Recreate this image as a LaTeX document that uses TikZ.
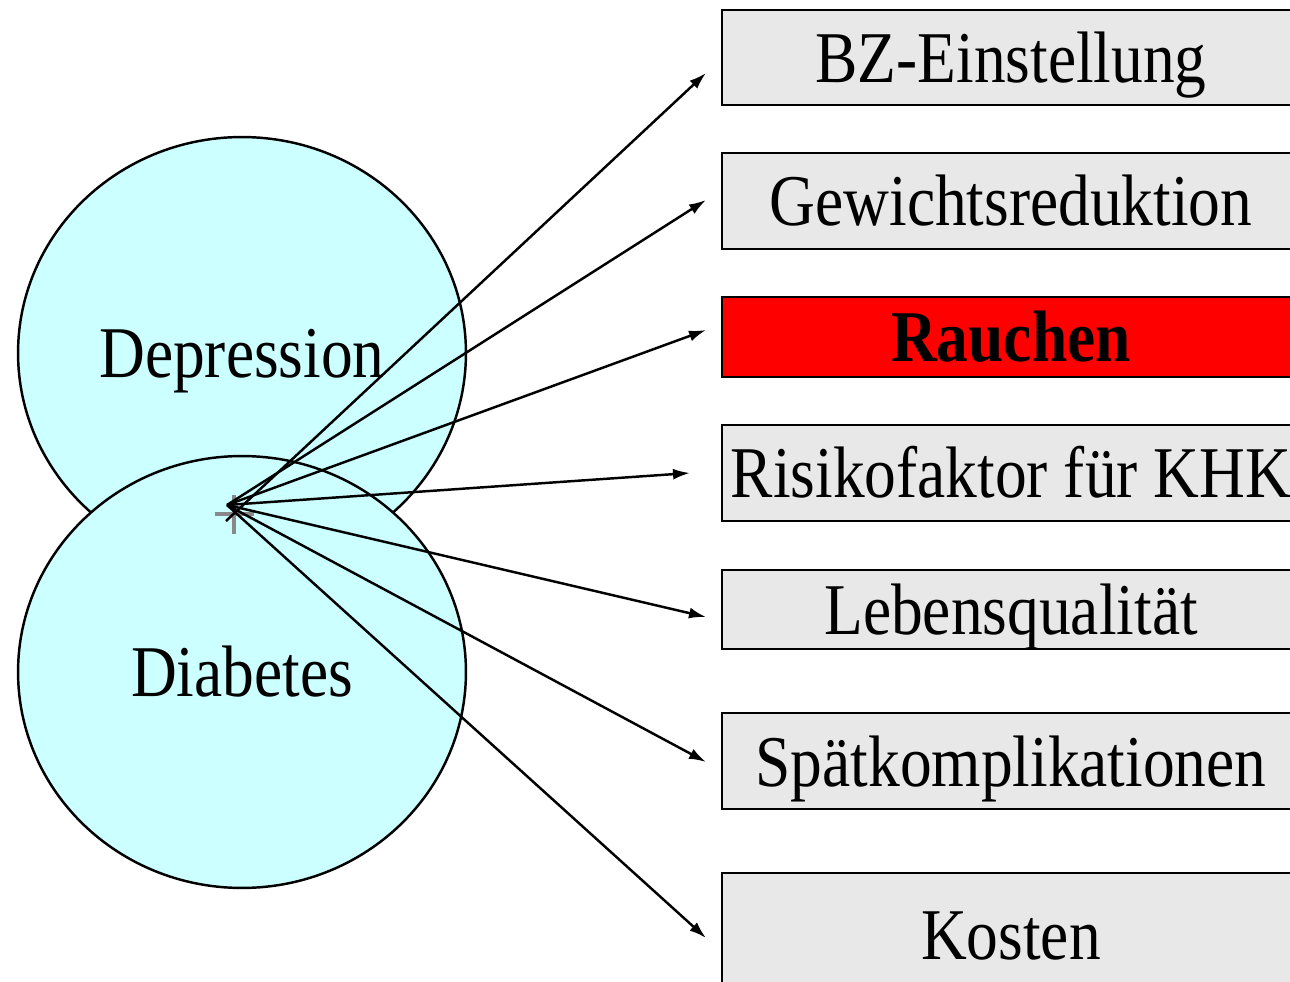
\documentclass[tikz,border=0pt]{standalone}
\usepackage{fontspec}
\setmainfont{Liberation Serif}[FakeStretch=0.87]
\usepackage{tikz}
\usetikzlibrary{arrows.meta,shapes.geometric}
\definecolor{CircleColor}{RGB}{204,255,255}
\definecolor{BoxColor}{RGB}{232,232,232}
\definecolor{CrossColor}{RGB}{136,136,136}
\tikzset{
  topicbox/.style={draw, rectangle, fill=BoxColor, line width=1.5pt, inner sep=0pt, minimum width=11.56cm, text height=1.25cm, text depth=0.25cm},
  topiccircle/.style={draw, ellipse, fill=CircleColor, line width=1.4pt, inner sep=0pt, minimum width=8.96cm, minimum height=8.64cm, text height=1.25cm, text depth=0.25cm},
}

\begin{document}
\begin{tikzpicture}[x=0.02cm, y=-0.02cm, >={Latex[length=0.34cm,width=0.22cm]}, every node/.style={font=\fontsize{41.5}{48}\selectfont}]
      \useasboundingbox (0,0) rectangle (1290,982);
      \clip (0,0) rectangle (1290,982);
      \node[topiccircle] (depr) at (242,353) {Depression};
      \node[topiccircle] (diab) at (242,672) {Diabetes};
      \node[topicbox, minimum height=1.9cm] (bz) at (1011,57.5) {BZ-Einstellung};
      \node[topicbox, minimum height=1.92cm] (gew) at (1011,201) {Gewichtsreduktion};
      \node[topicbox, minimum height=1.6cm, fill=red, font=\fontsize{41.5}{48}\selectfont\bfseries] (rauch) at (1011,337) {Rauchen};
      \node[topicbox, minimum height=1.92cm] (khk) at (1011,473) {Risikofaktor für KHK};
      \node[topicbox, minimum height=1.58cm] (leben) at (1011,609.5) {Lebensqualität};
      \node[topicbox, minimum height=1.92cm] (spaet) at (1011,761) {Spätkomplikationen};
      \node[topicbox, minimum height=2.44cm] (kost) at (1011,934) {Kosten};
      \draw[CrossColor, line width=2pt] (215,514) -- (254,514) (234,495) -- (234,534);
      \coordinate (hub) at (227,505);
      \coordinate (hub2) at (226,521);
      \coordinate (tbz) at (706,73);
      \coordinate (tgew) at (706,200);
      \coordinate (trauch) at (706,330);
      \coordinate (tkhk) at (690,473);
      \coordinate (tleben) at (706,617);
      \coordinate (tspaet) at (706,762);
      \coordinate (tkost) at (706,938);
      \draw[->, line width=1.4pt] (hub2)--(tbz);
      \draw[->, line width=1.4pt] (hub)--(tgew);
      \draw[->, line width=1.4pt] (hub)--(trauch);
      \draw[->, line width=1.4pt] (hub)--(tkhk);
      \draw[->, line width=1.4pt] (hub)--(tleben);
      \draw[->, line width=1.4pt] (hub)--(tspaet);
      \draw[->, line width=1.4pt] (hub)--(tkost);
    \end{tikzpicture}
\end{document}
